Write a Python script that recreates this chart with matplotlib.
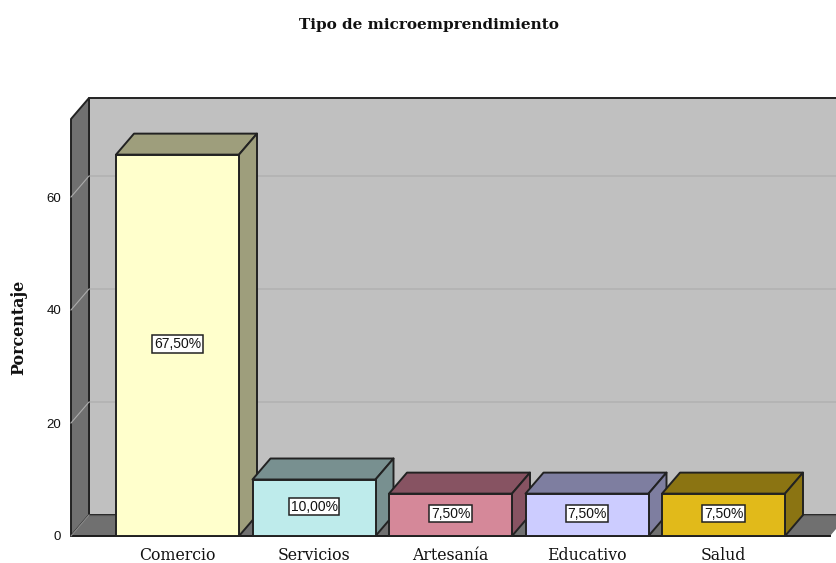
import matplotlib
matplotlib.use("Agg")
import matplotlib.pyplot as plt
from matplotlib.patches import Polygon

categories = ["Comercio", "Servicios", "Artesanía", "Educativo", "Salud"]
values = [67.5, 10.0, 7.5, 7.5, 7.5]
value_labels = ["67,50%", "10,00%", "7,50%", "7,50%", "7,50%"]
front_colors = ["#FFFFCC", "#BEEBEB", "#D58899", "#CCCCFF", "#E1BA1A"]
side_colors = ["#9E9E7C", "#789090", "#875362", "#7E7EA0", "#8B7412"]
y_ticks = [0, 20, 40, 60]

W, H = 836, 563
fig = plt.figure(figsize=(W / 100, H / 100), dpi=100, facecolor="white")
L, R, B, T = 71, 830, 536, 119
ax = fig.add_axes([L / W, (H - B) / H, (R - L) / W, (B - T) / H])
spacing = 136.5
xmin = (L - 177.5) / spacing
xmax = (R - 177.5) / spacing
ymax = (B - T) / 5.65
ax.set_xlim(xmin, xmax)
ax.set_ylim(0, ymax)
dx = 18 / spacing
dy = 21 / 5.65
bw = 123 / spacing
edge = "#222222"
lw = 1.4

def poly(pts, fc, z, ec=edge, w=lw):
    ax.add_patch(Polygon(pts, closed=True, facecolor=fc, edgecolor=ec, linewidth=w,
                         zorder=z, clip_on=False, joinstyle="round"))

# Walls
wall = "#707070"
poly([(xmin + dx, dy), (xmax + dx, dy), (xmax + dx, ymax + dy), (xmin + dx, ymax + dy)], "#C0C0C0", 1)
poly([(xmin, 0), (xmin + dx, dy), (xmin + dx, ymax + dy), (xmin, ymax)], wall, 1.2)
poly([(xmin, 0), (xmax, 0), (xmax + dx, dy), (xmin + dx, dy)], wall, 1.3, ec="none", w=0)
ax.plot([xmin, xmax], [0, 0], color="#1a1a1a", lw=1.4, zorder=1.5, clip_on=False)
ax.plot([xmin + dx, xmax + dx], [dy, dy], color="#555555", lw=0.9, zorder=1.5, clip_on=False)
ax.plot([xmin, xmin + dx], [0, dy], color="#8c8c8c", lw=0.8, zorder=1.5, clip_on=False)

# Gridlines on the walls
for t in y_ticks[1:]:
    ax.plot([xmin, xmin + dx, xmax + dx], [t, t + dy, t + dy], color="#ABABAB", lw=0.8,
            zorder=1.4, clip_on=False)

# Bars
for i, (v, fc, sc, lab) in enumerate(zip(values, front_colors, side_colors, value_labels)):
    l, r = i - bw / 2, i + bw / 2
    poly([(l, v), (r, v), (r + dx, v + dy), (l + dx, v + dy)], sc, 2 + i * 0.1)
    poly([(r, 0), (r + dx, dy), (r + dx, v + dy), (r, v)], sc, 2 + i * 0.1)
    ax.bar(i, v, width=bw, color=fc, edgecolor=edge, linewidth=lw, zorder=2.05 + i * 0.1)
    ax.text(i, v / 2 + 0.2, lab, ha="center", va="center", fontsize=10,
            family="Liberation Sans", color="#111111", zorder=5,
            bbox=dict(boxstyle="square,pad=0.13", facecolor="white", edgecolor="#222222", linewidth=1.1))

# Axes text
for s in ax.spines.values():
    s.set_visible(False)
ax.patch.set_visible(False)
ax.set_yticks(y_ticks)
ax.set_yticklabels([str(t) for t in y_ticks], family="Liberation Sans", fontsize=9.5, color="#111111")
ax.set_xticks(range(len(categories)))
ax.set_xticklabels(categories, family="DejaVu Serif", fontsize=11.3, color="#111111")
ax.tick_params(axis="both", length=0)
ax.tick_params(axis="y", pad=7)
ax.tick_params(axis="x", pad=8)

fig.text(429 / W, 1 - 25 / H, "Tipo de microemprendimiento", ha="center", va="center",
         family="DejaVu Serif", fontweight="bold", fontsize=11, color="#111111")
fig.text(19 / W, 1 - 327 / H, "Porcentaje", ha="center", va="center", rotation=90,
         family="DejaVu Serif", fontweight="bold", fontsize=11.4, color="#111111")

fig.savefig("out.png", dpi=100, facecolor="white")
